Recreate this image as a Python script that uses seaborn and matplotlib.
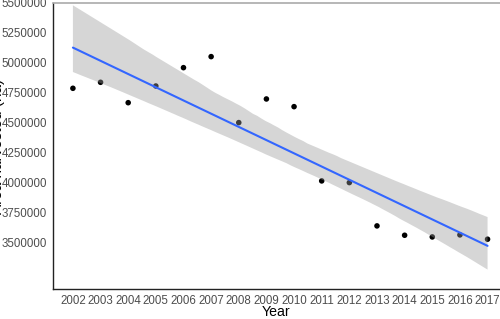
import numpy as np
import pandas as pd
import matplotlib
matplotlib.use("Agg")
import matplotlib.pyplot as plt
from matplotlib.ticker import FixedLocator
import seaborn as sns

years = [2002, 2003, 2004, 2005, 2006, 2007, 2008, 2009,
         2010, 2011, 2012, 2013, 2014, 2015, 2016, 2017]
values = [4789000, 4839000, 4669000, 4808000, 4961000, 5053000, 4503000, 4700000,
          4636000, 4017000, 4003000, 3642000, 3564000, 3550000, 3567000, 3531000]
y_ticks = [3500000, 3750000, 4000000, 4250000, 4500000,
           4750000, 5000000, 5250000, 5500000]

df = pd.DataFrame({"Year": years, "Value": values})

sns.set_style("white")
plt.rcParams["font.family"] = ["Liberation Sans", "DejaVu Sans"]

fig = plt.figure(figsize=(5, 3.19), dpi=100)
ax = fig.add_axes([53 / 500, 30 / 319, 447 / 500, 286 / 319])

sns.scatterplot(data=df, x="Year", y="Value", color="black", s=16,
                edgecolor="none", ax=ax)
sns.regplot(data=df, x="Year", y="Value", scatter=False, ci=96, n_boot=2000,
            seed=1, color="#3366FF", line_kws={"lw": 1.5}, ax=ax)

# ggplot-like grey ribbon
for coll in ax.collections[1:]:
    coll.set_facecolor("#999999")
    coll.set_alpha(0.4)
    coll.set_edgecolor("none")

ax.set_xlim(2001.28, 2017.45)
ax.set_ylim(3116000, 5500000)

ax.set_xticks(years)
ax.set_xticklabels([str(y) for y in years])
ax.xaxis.set_minor_locator(FixedLocator([y + 0.5 for y in years[:-1]] + [2001.5]))
ax.set_yticks(y_ticks)
ax.set_yticklabels([str(v) for v in y_ticks])
minor_y = [3125000 + 125000 * i for i in range(20) if (3125000 + 125000 * i) not in y_ticks]
ax.yaxis.set_minor_locator(FixedLocator(minor_y))

ax.tick_params(axis="both", which="major", length=3, width=0.8, color="#333333",
               labelsize=8.3, labelcolor="#4D4D4D", pad=1.5)
ax.tick_params(axis="x", which="major", pad=1.0)
ax.tick_params(axis="both", which="minor", length=2, width=0.6, color="#555555")

for s in ["left", "bottom"]:
    ax.spines[s].set_color("#222222")
    ax.spines[s].set_linewidth(1.0)
ax.spines["right"].set_visible(False)
ax.spines["top"].set_color("#AAAAAA")
ax.spines["top"].set_linewidth(1.2)

ax.set_xlabel("Year", fontsize=10.2, color="black", labelpad=-1.2)
ax.set_ylabel("Area harvested (ha)", fontsize=11, color="black")
ax.yaxis.set_label_coords(-0.107, 0.5)

fig.savefig("out.png", dpi=100)
